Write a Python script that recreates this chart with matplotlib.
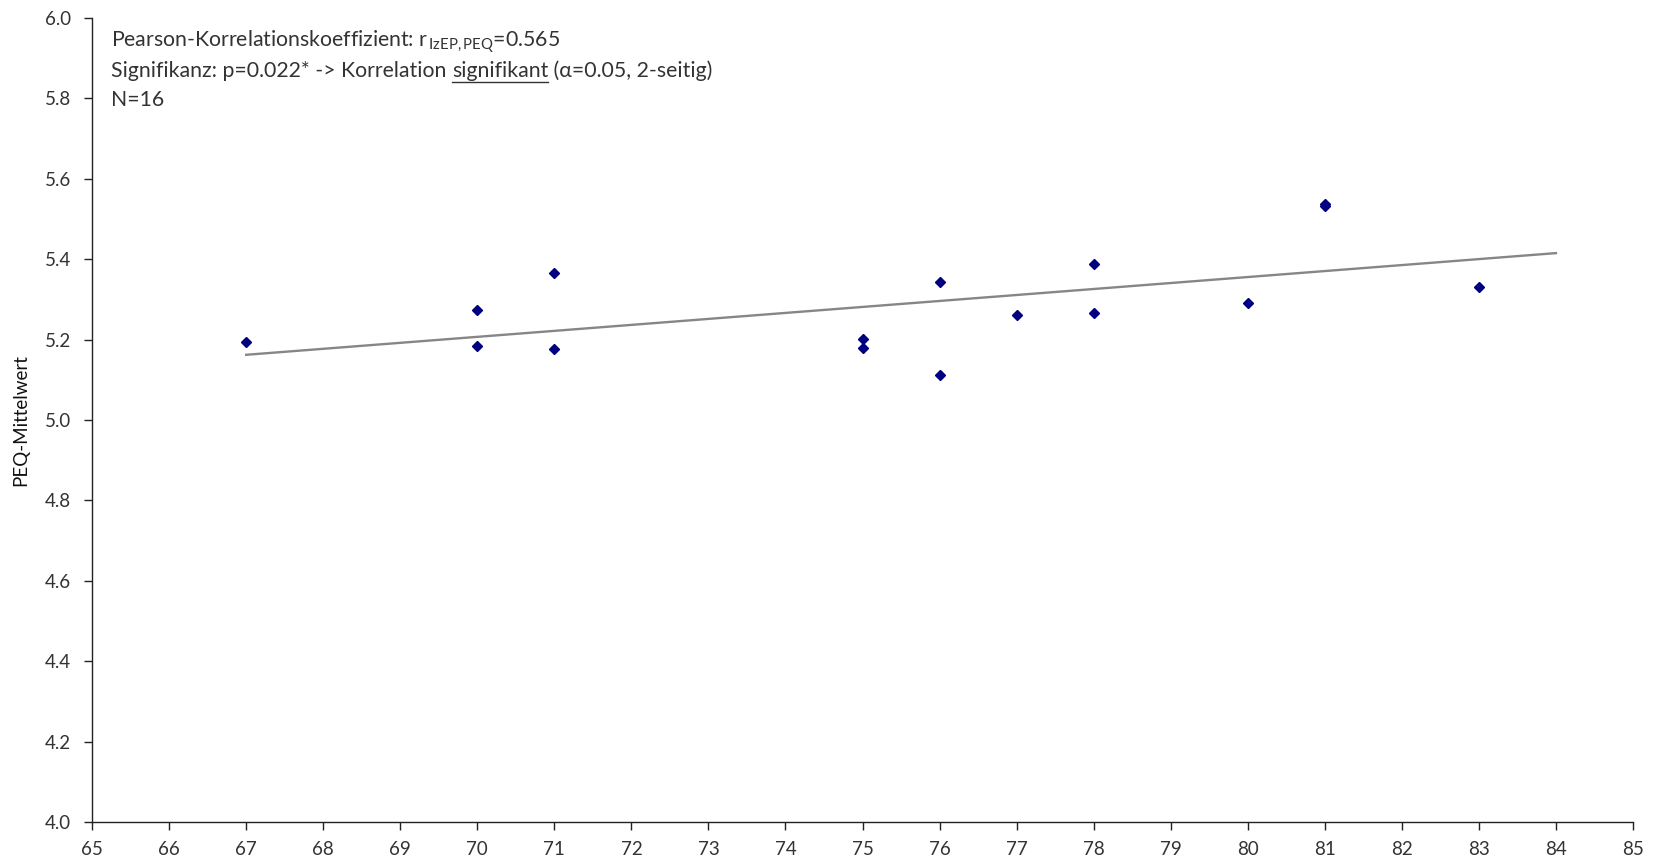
import numpy as np
import matplotlib
matplotlib.use('Agg')
import matplotlib.pyplot as plt
from matplotlib.lines import Line2D

# IzEP score vs PEQ mean
izep = [67, 70, 70, 71, 71, 75, 75, 76, 76, 77, 78, 78, 80, 81, 81, 83]
peq = [5.195, 5.273, 5.183, 5.365, 5.176, 5.201, 5.180, 5.343, 5.111,
       5.261, 5.387, 5.267, 5.292, 5.532, 5.537, 5.331]
trend_range = [67, 84]

x_ticks = list(range(65, 86))
y_ticks = [4.0, 4.2, 4.4, 4.6, 4.8, 5.0, 5.2, 5.4, 5.6, 5.8, 6.0]

plt.rcParams['font.family'] = ['Lato', 'DejaVu Sans']
plt.rcParams['mathtext.fontset'] = 'custom'
plt.rcParams['mathtext.rm'] = 'Lato'
plt.rcParams['mathtext.it'] = 'Lato'

txt_color = '#333333'

fig = plt.figure(figsize=(16.56, 8.66), dpi=100)
ax = fig.add_axes([0.0556, 0.0508, 0.9305, 0.9284])

# linear trend line (least squares, like the Excel trendline)
slope, icept = np.polyfit(izep, peq, 1)
tx = np.array(trend_range)
ax.plot(tx, slope * tx + icept, color='#868686', linewidth=1.7, zorder=2)

ax.plot(izep, peq, linestyle='none', marker='D', markersize=5.2,
        color='#000080', zorder=3)

ax.set_xlim(65, 85)
ax.set_ylim(4.0, 6.0)
ax.set_xticks(x_ticks)
ax.set_yticks(y_ticks)
ax.set_yticklabels([f'{v:.1f}' for v in y_ticks])

for s in ['top', 'right']:
    ax.spines[s].set_visible(False)
for s in ['left', 'bottom']:
    ax.spines[s].set_color('#222222')
    ax.spines[s].set_linewidth(1.0)

ax.tick_params(axis='both', direction='out', length=6, width=1,
               color='#222222', labelsize=13.5, labelcolor=txt_color)
ax.tick_params(axis='y', pad=9)
ax.tick_params(axis='x', pad=8)

ax.set_ylabel('PEQ-Mittelwert', fontsize=13.5, color='#111111', labelpad=11)

# annotation block in the upper left
W, H = fig.get_size_inches() * fig.dpi
fs = 15.3
x0 = 111 / W
base = [48, 77, 106]  # baselines, pixels from top

fig.text(x0, 1 - base[0] / H,
         r'Pearson-Korrelationskoeffizient: r$_{\,\mathrm{IzEP,PEQ}}$=0.565',
         fontsize=fs, color=txt_color, va='baseline')

fig.canvas.draw()
rend = fig.canvas.get_renderer()
parts = ['Signifikanz: p=0.022* -> Korrelation ', 'signifikant',
         ' (\u03b1=0.05, 2-seitig)']
xpos = x0
for i, p in enumerate(parts):
    t = fig.text(xpos, 1 - base[1] / H, p, fontsize=fs, color=txt_color,
                 va='baseline')
    bb = t.get_window_extent(rend)
    if i == 1:
        # underline under "signifikant"
        fig.add_artist(Line2D([bb.x0 / W, bb.x1 / W], [1 - (base[1] + 5) / H] * 2,
                              transform=fig.transFigure, color=txt_color,
                              linewidth=1.0))
    xpos = bb.x1 / W

fig.text(x0, 1 - base[2] / H, 'N=16', fontsize=fs, color=txt_color, va='baseline')

fig.savefig('out.png', dpi=100)
